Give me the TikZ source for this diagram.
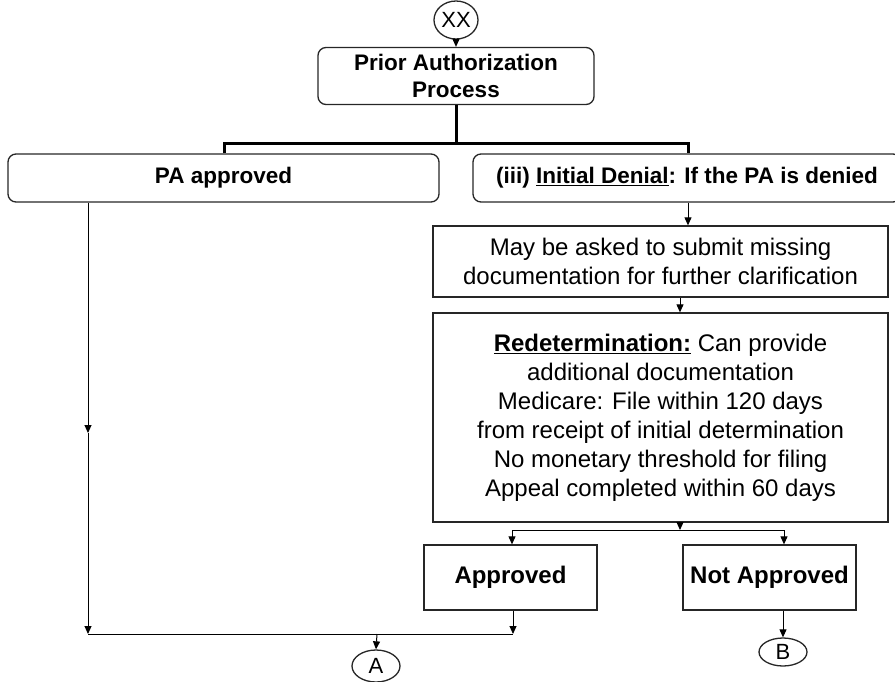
\documentclass[tikz,border=0pt]{standalone}
\usepackage{fontspec}
\setmainfont{Liberation Sans}
\usetikzlibrary{arrows.meta,shapes.geometric}

\tikzset{
  edge/.style={draw=black!85, line width=1.3pt},
  rbox/.style={edge, rounded corners=8pt, align=center, inner sep=0pt,
    font=\fontsize{22.5}{27}\selectfont\bfseries},
  sbox/.style={edge, align=center, inner sep=0pt,
    font=\fontsize{24}{29}\selectfont},
  conn/.style={ellipse, edge, inner sep=0pt, font=\fontsize{22}{26}\selectfont},
  wire/.style={draw=black, line width=1pt},
  flow/.style={wire, -{Triangle[length=8pt,width=7pt]}},
  bar/.style={draw=black, line width=3pt},
}

\begin{document}
\begin{tikzpicture}[x=1pt,y=-1pt]
\useasboundingbox (0,0) rectangle (895,681);

% connectors and boxes
\node[conn, minimum width=44pt, minimum height=38pt] (xx) at (456,20) {XX};
\node[rbox, minimum width=276pt, minimum height=57pt] (pa) at (456,76)
  {Prior Authorization\\Process};
\node[rbox, minimum width=431pt, minimum height=48pt] (ok) at (223.5,178) {PA approved};
\node[rbox, minimum width=428pt, minimum height=48pt] (deny) at (687,178)
  {(iii) \underline{Initial Denial}: If the PA is denied};
\node[sbox, minimum width=455pt, minimum height=71pt] (more) at (660.5,261.5)
  {May be asked to submit missing\\documentation for further clarification};
\node[sbox, minimum width=455pt, minimum height=209pt] (redet) at (660.5,417.5)
  {\textbf{\underline{Redetermination:}} Can provide\\additional documentation\\
   Medicare: File within 120 days\\from receipt of initial determination\\
   No monetary threshold for filing\\Appeal completed within 60 days};
\node[sbox, font=\fontsize{24}{29}\selectfont\bfseries,
  minimum width=173pt, minimum height=65pt] (app) at (510.5,577.5) {Approved};
\node[sbox, font=\fontsize{24}{29}\selectfont\bfseries,
  minimum width=173pt, minimum height=65pt] (nap) at (769.5,577.5) {Not Approved};
\node[conn, minimum width=48pt, minimum height=32pt] (a) at (376,666) {A};
\node[conn, minimum width=48pt, minimum height=28pt] (b) at (783,652) {B};

% junction points
\coordinate (top) at (456,143);
\coordinate (mid) at (88,433);
\coordinate (join) at (88,634);
\coordinate (appin) at (513,634);
\coordinate (aout) at (377,634);
\coordinate (split) at (680,530);
\coordinate (sl) at (512,530);
\coordinate (sr) at (784,530);

% top split
\draw[flow] (xx) -- (pa);
\draw[bar] (pa.south) -- (top);
\draw[bar] (ok.north -| 224,0) |- (top) -| (deny.north -| 688,0);

% approved path
\draw[flow] (ok.south -| mid) -- (mid);
\draw[flow] (mid) -- (join);
\draw[wire] (join) -- (appin);
\draw[flow] (app.south -| appin) -- (appin);
\draw[flow] (aout) -- (a.north);

% denial path
\draw[flow] (deny.south -| 688,0) -- (more.north -| 688,0);
\draw[flow] (more.south -| split) -- (redet.north -| split);
\draw[flow] (redet.south -| split) -- (split);
\draw[wire] (sl) -- (sr);
\draw[flow] (sl) -- (app.north -| sl);
\draw[flow] (sr) -- (nap.north -| sr);
\draw[flow] (nap.south -| b) -- (b.north);
\end{tikzpicture}
\end{document}
